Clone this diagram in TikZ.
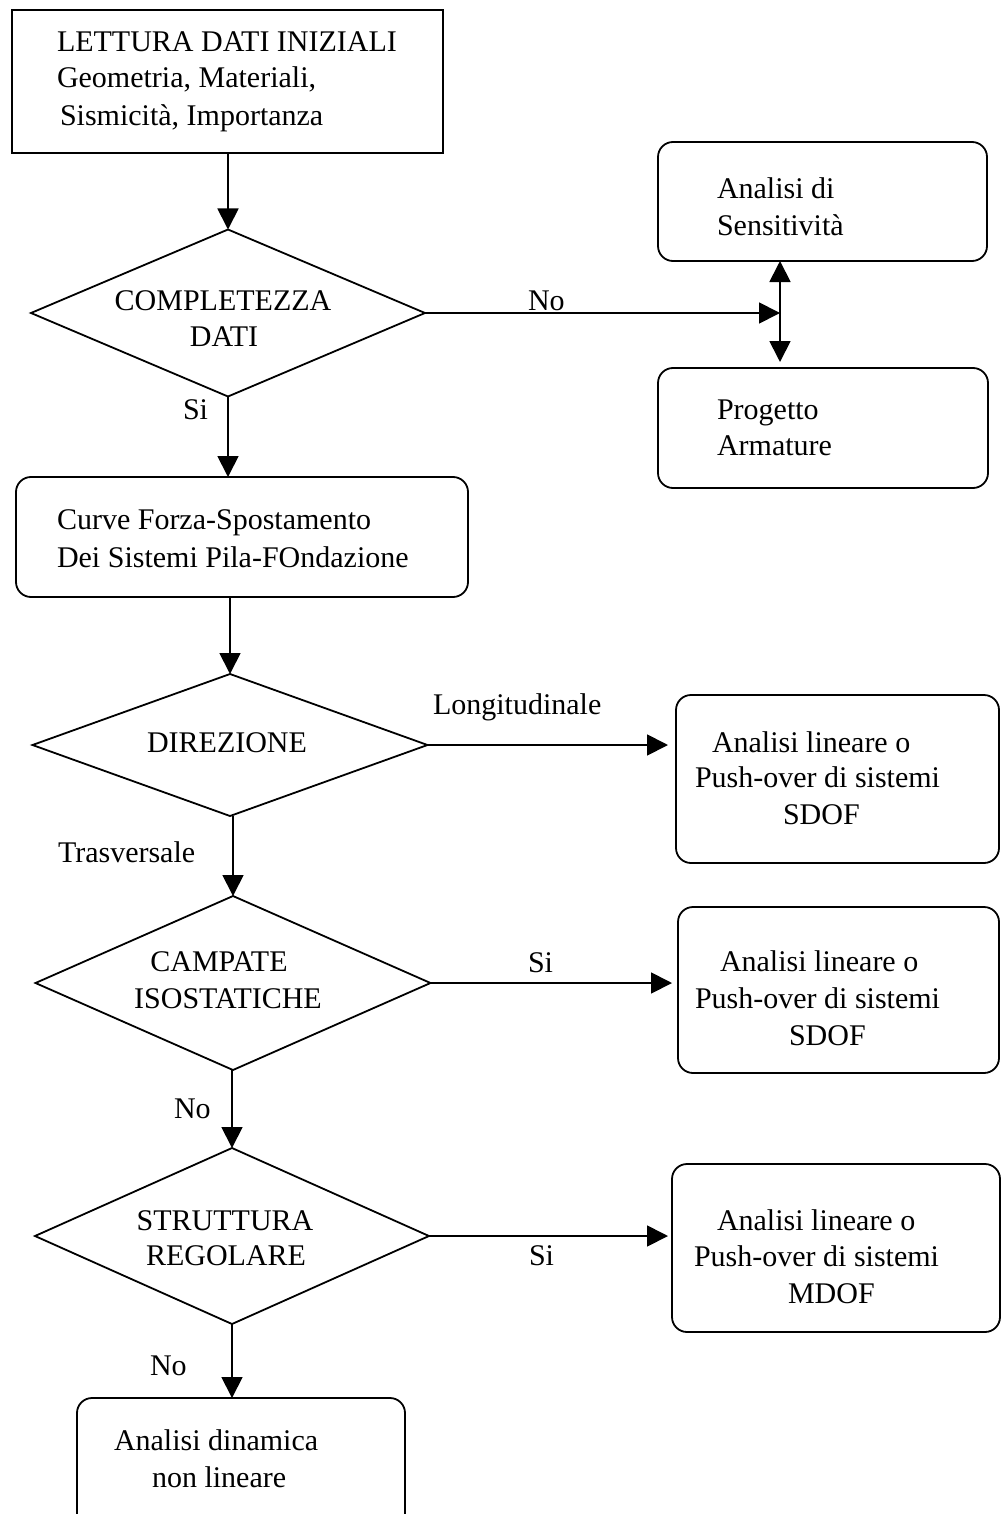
\documentclass[tikz,border=0pt]{standalone}
\usepackage{fontspec}
\setmainfont{Liberation Serif}
\usetikzlibrary{arrows.meta,shapes.geometric}

\tikzset{
  every picture/.style={line width=1.8pt},
  box/.style={draw, rectangle, inner sep=0pt, outer sep=0pt},
  rbox/.style={box, rounded corners=15pt},
  cond/.style={draw, diamond, inner sep=0pt, outer sep=0pt},
  txt/.style={inner sep=0pt, outer sep=0pt, font=\fontsize{30}{36}\selectfont},
  arr/.style={-{Triangle[length=21pt,width=21pt]}},
  dblarr/.style={{Triangle[length=21pt,width=21pt]}-{Triangle[length=21pt,width=21pt]}}
}

\begin{document}
\begin{tikzpicture}[x=1pt,y=-1pt]
  \useasboundingbox (0,0) rectangle (1001,1514);
  \clip (0,0) rectangle (1001,1514);

  % ---- boxes ----
  \node[box,  minimum width=431pt, minimum height=143pt] (init) at (227.5,81.5) {};
  \node[rbox, minimum width=452pt, minimum height=120pt] (fd)   at (242,537) {};
  \node[rbox, minimum width=329pt, minimum height=119pt] (sens) at (822.5,201.5) {};
  \node[rbox, minimum width=330pt, minimum height=120pt] (arm)  at (823,428) {};
  \node[rbox, minimum width=323pt, minimum height=168pt] (r1)   at (837.5,779) {};
  \node[rbox, minimum width=321pt, minimum height=166pt] (r2)   at (838.5,990) {};
  \node[rbox, minimum width=328pt, minimum height=168pt] (r3)   at (836,1248) {};
  \node[rbox, minimum width=328pt, minimum height=142pt] (fin)  at (241,1469) {};

  % ---- decisions ----
  \node[cond, minimum width=394pt, minimum height=167pt] (d1) at (228,313) {};
  \node[cond, minimum width=395pt, minimum height=142pt] (d2) at (230,745) {};
  \node[cond, minimum width=395pt, minimum height=174pt] (d3) at (233,983) {};
  \node[cond, minimum width=394pt, minimum height=176pt] (d4) at (232,1236) {};

  % ---- texts ----
  \node[txt, anchor=base west] (init1) at (57,52)  {LETTURA DATI INIZIALI};
  \node[txt, anchor=base west] (init2) at (57,88)  {Geometria, Materiali,};
  \node[txt, anchor=base west] (init3) at (60,126) {Sismicità, Importanza};

  \node[txt, anchor=base] (d1a) at (223,310) {COMPLETEZZA};
  \node[txt, anchor=base] (d1b) at (224,346) {DATI};

  \node[txt, anchor=base west] (fd1) at (57,529) {Curve Forza-Spostamento};
  \node[txt, anchor=base west] (fd2) at (57,567) {Dei Sistemi Pila-FOndazione};

  \node[txt, anchor=base west] (sens1) at (717,199) {Analisi di};
  \node[txt, anchor=base west] (sens2) at (717,236) {Sensitività};

  \node[txt, anchor=base west] (arm1) at (717,419) {Progetto};
  \node[txt, anchor=base west] (arm2) at (717,455) {Armature};

  \node[txt, anchor=base] (d2a) at (227,752) {DIREZIONE};

  \node[txt, anchor=base west] (r1a) at (712,752) {Analisi lineare o};
  \node[txt, anchor=base west] (r1b) at (695,787) {Push-over di sistemi};
  \node[txt, anchor=base west] (r1c) at (783,824) {SDOF};

  \node[txt, anchor=base] (d3a) at (219,971)  {CAMPATE};
  \node[txt, anchor=base] (d3b) at (228,1008) {ISOSTATICHE};

  \node[txt, anchor=base west] (r2a) at (720,971)  {Analisi lineare o};
  \node[txt, anchor=base west] (r2b) at (695,1008) {Push-over di sistemi};
  \node[txt, anchor=base west] (r2c) at (789,1045) {SDOF};

  \node[txt, anchor=base] (d4a) at (225,1230) {STRUTTURA};
  \node[txt, anchor=base] (d4b) at (226,1265) {REGOLARE};

  \node[txt, anchor=base west] (r3a) at (717,1230) {Analisi lineare o};
  \node[txt, anchor=base west] (r3b) at (694,1266) {Push-over di sistemi};
  \node[txt, anchor=base west] (r3c) at (788,1303) {MDOF};

  \node[txt, anchor=base west] (fin1) at (114,1450) {Analisi dinamica};
  \node[txt, anchor=base west] (fin2) at (152,1487) {non lineare};

  % ---- branch labels ----
  \node[txt, anchor=base west] (lno1)  at (528,310)  {No};
  \node[txt, anchor=base west] (lsi1)  at (183,419)  {Si};
  \node[txt, anchor=base west] (llong) at (433,714)  {Longitudinale};
  \node[txt, anchor=base west] (ltra)  at (58,862)   {Trasversale};
  \node[txt, anchor=base west] (lsi2)  at (528,972)  {Si};
  \node[txt, anchor=base west] (lno2)  at (174,1118) {No};
  \node[txt, anchor=base west] (lsi3)  at (529,1265) {Si};
  \node[txt, anchor=base west] (lno3)  at (150,1375) {No};

  % ---- connectors ----
  \coordinate (junc) at (780,313);
  \draw[arr] (d1.north |- init.south) -- (d1.north);
  \draw[arr] (d1.east) -- (junc);
  \draw[dblarr, shorten >=6pt] (junc |- sens.south) -- (junc |- arm.north);
  \draw[arr] (d1.south) -- (d1.south |- fd.north);
  \draw[arr] (d2.north |- fd.south) -- (d2.north);
  \draw[arr, shorten >=8pt] (d2.east) -- (d2.east -| r1.west);
  \draw[arr] (d3.north |- d2.south) -- (d3.north);
  \draw[arr, shorten >=6pt] (d3.east) -- (d3.east -| r2.west);
  \draw[arr] (d4.north |- d3.south) -- (d4.north);
  \draw[arr, shorten >=4pt] (d4.east) -- (d4.east -| r3.west);
  \draw[arr] (d4.south) -- (d4.south |- fin.north);
\end{tikzpicture}
\end{document}
